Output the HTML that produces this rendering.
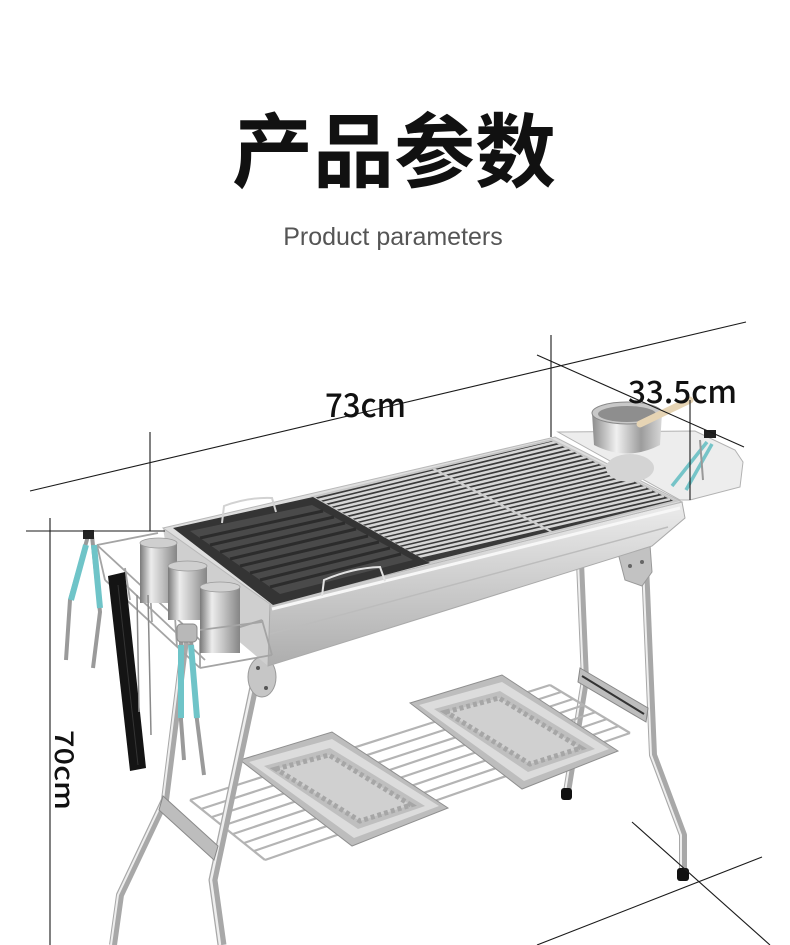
<!DOCTYPE html>
<html><head><meta charset="utf-8">
<style>
html,body{margin:0;padding:0;background:#fff;}
svg{display:block;}
</style></head><body>
<svg width="790" height="945" viewBox="0 0 790 945" xmlns="http://www.w3.org/2000/svg">
<defs>
<linearGradient id="cyl" x1="0" x2="1" y1="0" y2="0">
<stop offset="0" stop-color="#7a7a7a"/><stop offset="0.3" stop-color="#ececec"/><stop offset="0.6" stop-color="#c2c2c2"/><stop offset="1" stop-color="#858585"/>
</linearGradient>
<linearGradient id="face" x1="0" x2="0" y1="0" y2="1">
<stop offset="0" stop-color="#ececec"/><stop offset="0.45" stop-color="#d0d0d0"/><stop offset="1" stop-color="#adadad"/>
</linearGradient>
<linearGradient id="pot" x1="0" x2="1" y1="0" y2="0">
<stop offset="0" stop-color="#8c8c8c"/><stop offset="0.35" stop-color="#f0f0f0"/><stop offset="0.7" stop-color="#9c9c9c"/><stop offset="1" stop-color="#d8d8d8"/>
</linearGradient>
<g id="tray">
<polygon points="240,760 332,732 448,808 352,846" fill="#bdbdbd" stroke="#8f8f8f" stroke-width="1"/>
<polygon points="249,762 332,739 439,806 354,838" fill="#dcdcdc"/>
<polygon points="264,766 330,748 425,806 358,829" fill="#bfbfbf"/>
<polygon points="276,769 329,755 411,805 360,821" fill="#d0d0d0" stroke="#a6a6a6" stroke-width="5" stroke-dasharray="4 3"/>
</g>
</defs>
<rect width="790" height="945" fill="#fff"/>

<!-- Title -->
<text x="394" y="181" text-anchor="middle" font-family="'Noto Sans CJK SC', 'WenQuanYi Zen Hei', sans-serif" font-weight="700" font-size="81" fill="#111">产品参数</text>
<text x="393" y="245" text-anchor="middle" font-family="'Liberation Sans', sans-serif" font-size="25" fill="#555">Product parameters</text>

<!-- right back leg (behind shelf) -->
<path d="M580,562 L585,680 L567,792" fill="none" stroke="#a8a8a8" stroke-width="8" stroke-linejoin="round"/>
<path d="M578,562 L583,680 L565,792" fill="none" stroke="#eeeeee" stroke-width="2"/>
<rect x="561" y="788" width="11" height="12" rx="3" fill="#111"/>

<!-- wire shelf -->
<g stroke="#b4b4b4" stroke-width="2.2" fill="none">
<line x1="190" y1="800" x2="550" y2="685"/>
<line x1="201" y1="809" x2="561" y2="692"/>
<line x1="212" y1="817" x2="573" y2="699"/>
<line x1="222" y1="826" x2="584" y2="705"/>
<line x1="233" y1="834" x2="596" y2="712"/>
<line x1="244" y1="843" x2="607" y2="719"/>
<line x1="254" y1="851" x2="619" y2="726"/>
<line x1="265" y1="860" x2="630" y2="733"/>
<line x1="190" y1="800" x2="265" y2="860"/>
<line x1="550" y1="685" x2="630" y2="733"/>
</g>

<!-- trays -->
<use href="#tray"/>
<use href="#tray" transform="translate(170,-57)"/>

<!-- right front leg -->
<path d="M645,565 L653,755 L683,835 L683,872" fill="none" stroke="#a8a8a8" stroke-width="8" stroke-linejoin="round"/>
<path d="M643,565 L651,755 L681,835 L681,872" fill="none" stroke="#eeeeee" stroke-width="2"/>
<rect x="677" y="868" width="12" height="13" rx="3" fill="#111"/>
<!-- right cross bar -->
<polygon points="580,668 648,708 646,722 578,682" fill="#bdbdbd" stroke="#888" stroke-width="1"/>
<line x1="582" y1="676" x2="644" y2="714" stroke="#333" stroke-width="2"/>
<!-- right bracket -->
<polygon points="618,553 650,545 652,572 642,586 625,580" fill="#c2c2c2" stroke="#999" stroke-width="1"/>
<circle cx="630" cy="566" r="2" fill="#666"/><circle cx="642" cy="562" r="2" fill="#666"/>

<!-- left legs -->
<path d="M185,640 L165,800 L120,895 L113,945" fill="none" stroke="#a8a8a8" stroke-width="8" stroke-linejoin="round"/>
<path d="M183,640 L163,800 L118,895 L111,945" fill="none" stroke="#eeeeee" stroke-width="2"/>
<path d="M258,668 L213,880 L222,945" fill="none" stroke="#a8a8a8" stroke-width="9" stroke-linejoin="round"/>
<path d="M256,668 L211,880 L220,945" fill="none" stroke="#eeeeee" stroke-width="2.5"/>
<polygon points="163,796 218,846 214,860 159,810" fill="#bdbdbd" stroke="#888" stroke-width="1"/>
<ellipse cx="262" cy="677" rx="14" ry="20" fill="#c6c6c6" stroke="#999" stroke-width="1"/>
<circle cx="258" cy="668" r="2" fill="#555"/><circle cx="266" cy="688" r="2" fill="#555"/>

<!-- body -->
<polygon points="163,528 270,604 268,666 172,585" fill="#cfcfcf"/>
<polygon points="270,604 682,502 685,518 652,546 268,666" fill="url(#face)" stroke="#aaa" stroke-width="1"/>
<line x1="272" y1="609" x2="680" y2="508" stroke="#f7f7f7" stroke-width="3"/>
<line x1="270" y1="634" x2="668" y2="527" stroke="#bcbcbc" stroke-width="1.5"/>
<polygon points="163,528 555,437 682,502 270,604" fill="#dedede" stroke="#b8b8b8" stroke-width="1"/>

<!-- grate -->
<polygon points="313,497 552,440 676,501 428,563" fill="#3a3a3a"/>
<g stroke="#d6d6d6" stroke-width="2.6">
<line x1="318" y1="500" x2="556" y2="442"/>
<line x1="323" y1="503" x2="562" y2="445"/>
<line x1="329" y1="506" x2="568" y2="448"/>
<line x1="334" y1="509" x2="574" y2="451"/>
<line x1="339" y1="512" x2="580" y2="454"/>
<line x1="344" y1="515" x2="586" y2="457"/>
<line x1="350" y1="518" x2="592" y2="460"/>
<line x1="355" y1="521" x2="598" y2="463"/>
<line x1="360" y1="524" x2="604" y2="466"/>
<line x1="365" y1="527" x2="610" y2="469"/>
<line x1="371" y1="530" x2="616" y2="472"/>
<line x1="376" y1="533" x2="622" y2="475"/>
<line x1="381" y1="536" x2="628" y2="478"/>
<line x1="386" y1="539" x2="634" y2="481"/>
<line x1="392" y1="542" x2="640" y2="484"/>
<line x1="397" y1="545" x2="646" y2="487"/>
<line x1="402" y1="548" x2="652" y2="490"/>
<line x1="407" y1="551" x2="658" y2="493"/>
<line x1="413" y1="554" x2="664" y2="496"/>
<line x1="418" y1="557" x2="670" y2="499"/>
</g>
<line x1="432" y1="468" x2="552" y2="532" stroke="#cfcfcf" stroke-width="2"/>
<polygon points="313,497 552,440 676,501 428,563" fill="none" stroke="#c8c8c8" stroke-width="2"/>

<!-- griddle -->
<polygon points="173,528 313,497 430,563 273,605" fill="#343434"/>
<polygon points="190,531 312,505 413,560 280,594" fill="#4a4a4a"/>
<g stroke="#2c2c2c" stroke-width="3">
<line x1="200" y1="538" x2="323" y2="511"/>
<line x1="210" y1="545" x2="334" y2="517"/>
<line x1="220" y1="552" x2="345" y2="523"/>
<line x1="230" y1="559" x2="356" y2="529"/>
<line x1="240" y1="566" x2="368" y2="536"/>
<line x1="250" y1="573" x2="379" y2="542"/>
<line x1="260" y1="580" x2="390" y2="548"/>
<line x1="270" y1="587" x2="401" y2="554"/>
</g>
<path d="M222,523 L224,506 Q248,497 272,498 L276,512" fill="none" stroke="#d2d2d2" stroke-width="2"/>
<path d="M322,596 L324,580 Q352,568 380,567 L385,581" fill="none" stroke="#e2e2e2" stroke-width="2"/>

<!-- right side shelf -->
<polygon points="558,432 695,431 735,450 743,462 740,487 690,500 680,500" fill="#ededed" stroke="#b2b2b2" stroke-width="1"/>
<ellipse cx="630" cy="468" rx="24" ry="14" fill="#d4d4d4"/>
<!-- pot -->
<path d="M592,413 L594,445 Q627,462 660,445 L662,413 Z" fill="url(#pot)"/>
<ellipse cx="627" cy="413" rx="35" ry="11" fill="#c8c8c8" stroke="#888" stroke-width="1"/>
<ellipse cx="627" cy="414" rx="29" ry="8" fill="#8e8e8e"/>
<line x1="640" y1="424" x2="690" y2="400" stroke="#e6d4b4" stroke-width="7" stroke-linecap="round"/>
<!-- right tongs -->
<line x1="672" y1="486" x2="707" y2="442" stroke="#76c4c8" stroke-width="3.5"/>
<line x1="686" y1="490" x2="712" y2="444" stroke="#76c4c8" stroke-width="3.5"/>
<line x1="700" y1="440" x2="703" y2="480" stroke="#999" stroke-width="2"/>
<rect x="704" y="430" width="12" height="8" fill="#222"/>

<!-- basket -->
<g stroke="#a4a4a4" stroke-width="1.8" fill="none">
<line x1="97" y1="545" x2="158" y2="533"/>
<line x1="97" y1="545" x2="200" y2="640"/>
<line x1="200" y1="640" x2="262" y2="620"/>
<line x1="105" y1="580" x2="200" y2="668"/>
<line x1="200" y1="668" x2="272" y2="655"/>
<line x1="97" y1="545" x2="105" y2="580"/>
<line x1="200" y1="640" x2="200" y2="668"/>
<line x1="150" y1="590" x2="152" y2="622"/>
<line x1="125" y1="568" x2="130" y2="600"/>
<line x1="175" y1="617" x2="177" y2="647"/>
<line x1="115" y1="575" x2="205" y2="660"/>
<line x1="262" y1="620" x2="272" y2="655"/>
</g>

<!-- shakers -->
<rect x="140" y="543" width="37" height="60" fill="url(#cyl)"/>
<ellipse cx="158.5" cy="543" rx="18.5" ry="5" fill="#cfcfcf" stroke="#999" stroke-width="0.8"/>
<rect x="168" y="566" width="39" height="54" fill="url(#cyl)"/>
<ellipse cx="187.5" cy="566" rx="19.5" ry="5" fill="#cfcfcf" stroke="#999" stroke-width="0.8"/>
<rect x="200" y="587" width="40" height="66" fill="url(#cyl)"/>
<ellipse cx="220" cy="587" rx="20" ry="5" fill="#d2d2d2" stroke="#999" stroke-width="0.8"/>
<line x1="200" y1="630" x2="262" y2="622" stroke="#a4a4a4" stroke-width="1.8"/>

<!-- left tongs -->
<path d="M88,536 L70,600 L66,660" fill="none" stroke="#9a9a9a" stroke-width="4"/>
<path d="M92,536 L100,612 L93,668" fill="none" stroke="#9a9a9a" stroke-width="4"/>
<line x1="86" y1="545" x2="71" y2="600" stroke="#6fc4c8" stroke-width="6"/>
<line x1="94" y1="545" x2="100" y2="608" stroke="#6fc4c8" stroke-width="6"/>
<rect x="83" y="530" width="11" height="9" fill="#222"/>
<!-- black tongs -->
<polygon points="108,576 125,572 146,768 130,771" fill="#141414"/>
<line x1="118" y1="585" x2="138" y2="765" stroke="#333" stroke-width="1"/>
<!-- hooks -->
<line x1="137" y1="595" x2="139" y2="712" stroke="#8a8a8a" stroke-width="1.5"/>
<line x1="148" y1="595" x2="151" y2="735" stroke="#8a8a8a" stroke-width="1.5"/>
<!-- center tongs -->
<path d="M181,640 L181,720 L184,760" fill="none" stroke="#9a9a9a" stroke-width="4"/>
<path d="M191,640 L197,720 L204,775" fill="none" stroke="#9a9a9a" stroke-width="4"/>
<line x1="181" y1="645" x2="181" y2="718" stroke="#6fc4c8" stroke-width="6"/>
<line x1="191" y1="645" x2="197" y2="718" stroke="#6fc4c8" stroke-width="6"/>
<rect x="177" y="624" width="20" height="18" rx="4" fill="#b8b8b8" stroke="#888" stroke-width="1"/>

<!-- dimension lines -->
<g stroke="#1a1a1a" stroke-width="1.1" fill="none">
<line x1="30" y1="491" x2="746" y2="322"/>
<line x1="150" y1="432" x2="150" y2="531"/>
<line x1="551" y1="335" x2="551" y2="437"/>
<line x1="537" y1="355" x2="744" y2="447"/>
<line x1="690" y1="400" x2="690" y2="500"/>
<line x1="26" y1="531" x2="165" y2="531"/>
<line x1="50" y1="518" x2="50" y2="945"/>
<line x1="632" y1="822" x2="770" y2="945"/>
<line x1="537" y1="945" x2="762" y2="857"/>
</g>

<!-- labels -->
<text x="325" y="417" font-family="'Noto Sans CJK SC', 'Liberation Sans', sans-serif" font-weight="500" font-size="33" fill="#111" textLength="81" lengthAdjust="spacingAndGlyphs">73cm</text>
<text x="628" y="403" font-family="'Noto Sans CJK SC', 'Liberation Sans', sans-serif" font-weight="500" font-size="31" fill="#111" textLength="109" lengthAdjust="spacingAndGlyphs">33.5cm</text>
<text transform="translate(55,730) rotate(90) scale(1,0.78)" font-family="'Noto Sans CJK SC', 'Liberation Sans', sans-serif" font-weight="500" font-size="33" fill="#111" textLength="80" lengthAdjust="spacingAndGlyphs">70cm</text>
</svg>
</body></html>
